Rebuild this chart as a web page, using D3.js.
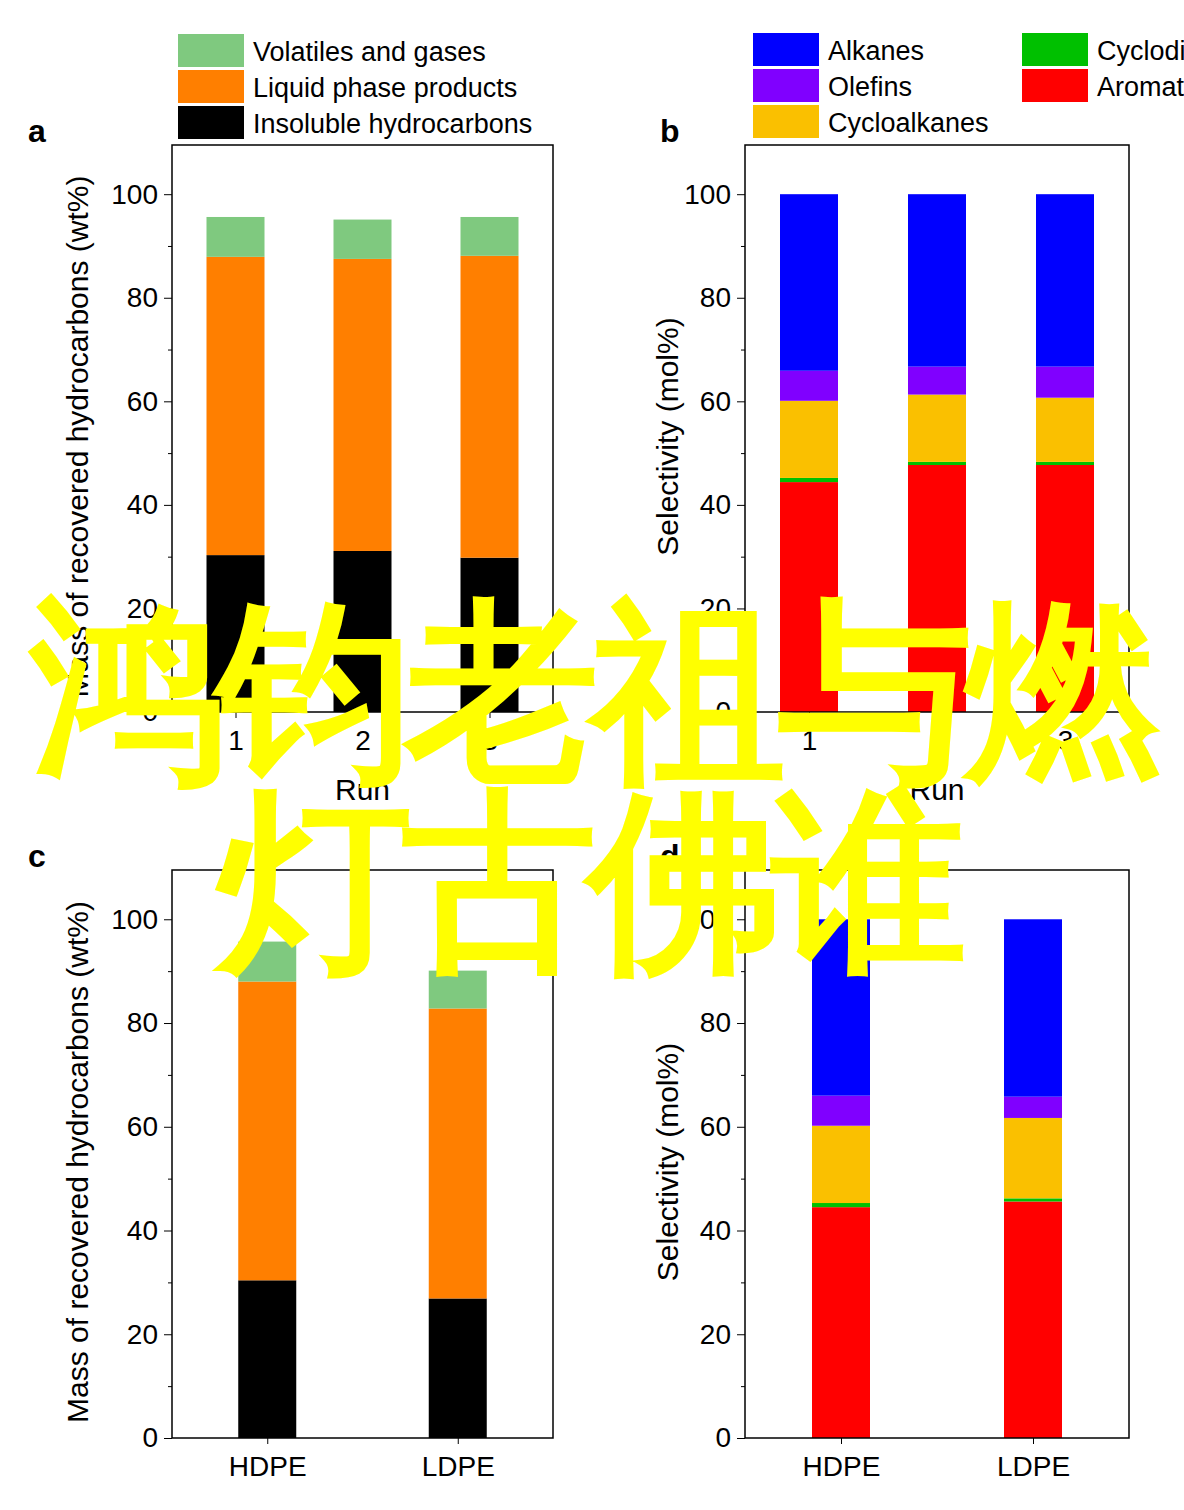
<!DOCTYPE html><html><head><meta charset="utf-8"><script src="https://cdn.jsdelivr.net/npm/d3@7"></script>
<style>body{margin:0;background:#fff}text{font-family:Arial,"Liberation Sans",sans-serif}</style></head><body>
<svg id="c" width="1184" height="1510"></svg>
<script>
const runs=["1","2","3"], plastics=["HDPE","LDPE"];
const massSeries=["Insoluble hydrocarbons","Liquid phase products","Volatiles and gases"];
const massColors=["#000000","#ff7f00","#7fc97f"];
const massRuns=[[30.3,57.6,7.7],[31.1,56.4,7.6],[29.8,58.3,7.5]];
const massPlastics=[[30.4,57.6,7.7],[26.9,55.9,7.3]];
const selSeries=["Aromatics","Cyclodienes","Cycloalkanes","Olefins","Alkanes"];
const selColors=["#ff0000","#00c000","#fac000","#8000ff","#0000ff"];
const selRuns=[[44.4,0.8,14.9,5.8,34.1],[47.7,0.6,13.0,5.4,33.3],[47.7,0.6,12.4,6.0,33.3]];
const selPlastics=[[44.5,0.8,14.9,5.8,34.0],[45.6,0.6,15.5,4.1,34.2]];
const yTicks=[0,20,40,60,80,100];
const svg=d3.select("#c");
function panel(x0,x1,y0,y1,cats,data,colors,xlabel,ylabel,letter,ylx,lx,xly){
  const g=svg.append("g");
  const x=d3.scalePoint().domain(cats).range([x0,x1]).padding(0.5);
  const y=d3.scaleLinear().domain([0,109.5]).range([y1,y0]);
  cats.forEach((c,i)=>{let acc=0;data[i].forEach((v,j)=>{
    g.append("rect").attr("x",x(c)-29).attr("width",58).attr("y",y(acc+v)).attr("height",y(acc)-y(acc+v)).attr("fill",colors[j]);acc+=v;});});
  g.append("rect").attr("x",x0).attr("y",y0).attr("width",x1-x0).attr("height",y1-y0).attr("fill","none").attr("stroke","#000").attr("stroke-width",1.5);
  const ax=g.append("g").attr("transform",`translate(${x0},0)`).call(d3.axisLeft(y).tickValues(yTicks).tickSize(8).tickPadding(6));
  ax.select(".domain").remove();ax.selectAll("text").attr("font-size",28).attr("font-family","Arial");
  g.append("g").attr("transform",`translate(${x0},0)`).call(d3.axisLeft(y).tickValues(d3.range(10,110,20)).tickSize(4).tickFormat("")).select(".domain").remove();
  const bx=g.append("g").attr("transform",`translate(0,${y1})`).call(d3.axisBottom(x).tickSize(6).tickPadding(12));
  bx.select(".domain").remove();bx.selectAll("text").attr("font-size",28).attr("font-family","Arial");
  if(xlabel)g.append("text").attr("x",(x0+x1)/2).attr("y",y1+88).attr("text-anchor","middle").attr("font-size",30).text(xlabel);
  g.append("text").attr("transform",`translate(${ylx},${(y0+y1)/2+8}) rotate(-90)`).attr("text-anchor","middle").attr("font-size",30).text(ylabel);
  g.append("text").attr("x",lx).attr("y",y0-3).attr("font-size",32).attr("font-weight","bold").text(letter);
}
panel(172,553,145,712,runs,massRuns,massColors,"Run","Mass of recovered hydrocarbons (wt%)","a",88,28);
panel(745,1129,145,712,runs,selRuns,selColors,"Run","Selectivity (mol%)","b",678,660);
panel(172,553,870,1438,plastics,massPlastics,massColors,"","Mass of recovered hydrocarbons (wt%)","c",88,28);
panel(745,1129,870,1438,plastics,selPlastics,selColors,"","Selectivity (mol%)","d",678,660);
const la=[[2,"Volatiles and gases"],[1,"Liquid phase products"],[0,"Insoluble hydrocarbons"]];
la.forEach((d,i)=>{svg.append("rect").attr("x",178).attr("y",34+i*36).attr("width",66).attr("height",33).attr("fill",massColors[d[0]]);
 svg.append("text").attr("x",253).attr("y",61+i*36).attr("font-size",27).text(d[1]);});
const lb=[[4,"Alkanes",753,0],[3,"Olefins",753,1],[2,"Cycloalkanes",753,2],[1,"Cyclodienes",1022,0],[0,"Aromatics",1022,1]];
lb.forEach(d=>{svg.append("rect").attr("x",d[2]).attr("y",33+d[3]*36).attr("width",66).attr("height",33).attr("fill",selColors[d[0]]);
 svg.append("text").attr("x",d[2]+75).attr("y",60+d[3]*36).attr("font-size",27).text(d[1]);});
const ov=svg.append("g").attr("fill","#ffff00").attr("font-family","'Noto Sans CJK SC'").attr("font-weight","bold").attr("font-size",195);
ov.append("text").attr("x",595).attr("y",760).attr("text-anchor","middle").attr("textLength",1130).text("鸿钧老祖与燃");
ov.append("text").attr("x",592).attr("y",950).attr("text-anchor","middle").attr("textLength",750).text("灯古佛谁");
</script></body></html>
